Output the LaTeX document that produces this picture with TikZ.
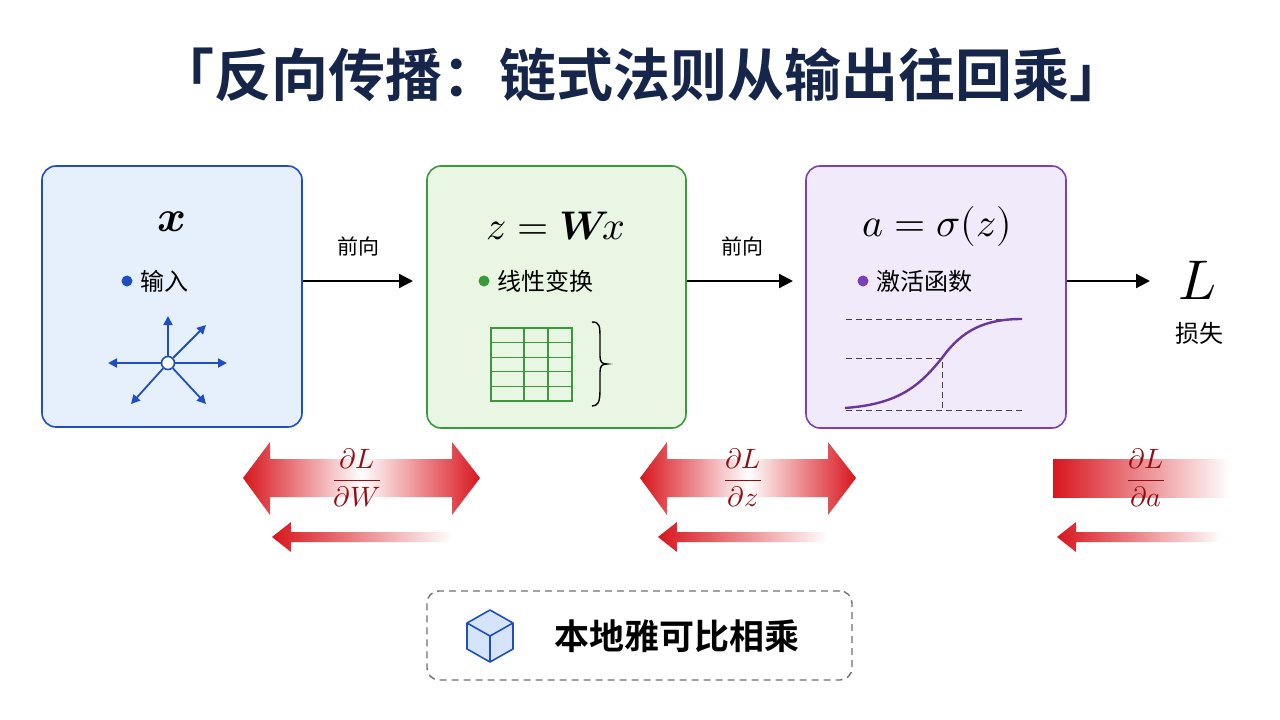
\documentclass[tikz,border=0pt]{standalone}
\usepackage{amsmath}
\usepackage{unicode-math}
\setmathfont{Latin Modern Math}
\newfontfamily\cjk[BoldFont=* Bold]{Noto Sans CJK SC}
\usetikzlibrary{arrows.meta}
\definecolor{bblue}{HTML}{1F4FBF}\definecolor{bbluef}{HTML}{E6EFFC}
\definecolor{bgreen}{HTML}{3A9A3A}\definecolor{bgreenf}{HTML}{E9F6E4}
\definecolor{bpurp}{HTML}{7B3FB8}\definecolor{bpurpf}{HTML}{F0EAFB}
\definecolor{navy}{HTML}{15264A}\definecolor{gred}{HTML}{D8161E}\definecolor{dred}{HTML}{8E1016}
\definecolor{cubef}{HTML}{D6E4FA}
\begin{document}
\begin{tikzpicture}[x=1pt,y=-1pt,
 box/.style={draw, line width=1.6pt, rounded corners=14pt},
 lbl/.style={font=\cjk\fontsize{24}{26}\selectfont},
 fwd/.style={-{Triangle[length=14pt,width=14pt]}, line width=2.2pt},
 dot/.style={circle, inner sep=0pt, minimum size=11pt},
 frac/.style={text=dred, font=\fontsize{28}{30}\selectfont},
 star/.style={bblue, line width=1.8pt, -{Triangle[length=9pt,width=9pt]}},
 guide/.style={line width=1pt, black!75, dash pattern=on 6pt off 4pt}]
\useasboundingbox (0,0) rectangle (1280,720);
\fill[white] (0,0) rectangle (1280,720);
\node[text=navy, font=\cjk\bfseries\fontsize{57}{60}\selectfont] (title) at (642,75) {「反向传播：链式法则从输出往回乘」};
\node[box, draw=bblue, fill=bbluef, minimum width=260pt, minimum height=261pt] (b1) at (172,296.5) {};
\node[box, draw=bgreen, fill=bgreenf, minimum width=259pt, minimum height=262pt] (b2) at (556.5,297) {};
\node[box, draw=bpurp, fill=bpurpf, minimum width=260pt, minimum height=262pt] (b3) at (936,297) {};
\node[font=\fontsize{44}{48}\selectfont] (m1) at (172,222) {$\mathbfit{x}$};
\node[font=\fontsize{40}{44}\selectfont] (m2) at (556,226) {$z=\mathbfit{W}\!x$};
\node[font=\fontsize{40}{44}\selectfont] (m3) at (937,226) {$a=\sigma(z)$};
\node[font=\fontsize{56}{60}\selectfont] (L) at (1198,280) {$L$};
\node[lbl] (loss) at (1199,333) {损失};
\node[dot, fill=bblue] (d1) at (127,281) {};
\node[lbl, anchor=west] (t1) at (d1.east) {\hspace{4pt}输入};
\node[dot, fill=bgreen] (d2) at (484,281) {};
\node[lbl, anchor=west] (t2) at (d2.east) {\hspace{4pt}线性变换};
\node[dot, fill=bpurp] (d3) at (863,281) {};
\node[lbl, anchor=west] (t3) at (d3.east) {\hspace{4pt}激活函数};
\node[font=\cjk\fontsize{21}{23}\selectfont] (f1) at (358,246) {前向};
\node[font=\cjk\fontsize{21}{23}\selectfont] (f2) at (742,246) {前向};
\coordinate (e1) at (413,281);
\coordinate (e2) at (793,281);
\coordinate (e3) at (1150,281);
\draw[fwd] (b1.east|-d1) -- (e1);
\draw[fwd] (b2.east|-d1) -- (e2);
\draw[fwd] (b3.east|-d1) -- (e3);
\node[circle, draw=bblue, line width=1.6pt, fill=white, minimum size=13pt, inner sep=0pt] (hub) at (168,363) {};
\coordinate (su) at (168,316);
\coordinate (sur) at (206,325);
\coordinate (sr) at (227,363);
\coordinate (sl) at (108,363);
\coordinate (sdl) at (131,404);
\coordinate (sdr) at (206,404);
\draw[star] (hub) -- (su);
\draw[star] (hub) -- (sur);
\draw[star] (hub) -- (sr);
\draw[star] (hub) -- (sl);
\draw[star] (hub) -- (sdl);
\draw[star] (hub) -- (sdr);
\draw[bgreen, line width=1.4pt] (491,328) rectangle (572,401);
\foreach \xx in {524,548} \draw[bgreen, line width=1.1pt] (\xx,328) -- (\xx,401);
\foreach \yy in {342.6,357.2,371.8,386.4} \draw[bgreen, line width=1.1pt] (491,\yy) -- (572,\yy);
\draw[line width=1.4pt] (592,322) .. controls (600,322) and (600,326) .. (600,340) -- (600,356) .. controls (600,362) and (602,364) .. (607,364) .. controls (602,364) and (600,366) .. (600,372) -- (600,390) .. controls (600,402) and (598,406) .. (592,406);
\draw[guide] (846,319) -- (1022,319) (846,358) -- (942,358) -- (942,410) (846,410) -- (1022,410);
\draw[bpurp!85!black, line width=2.4pt] (845,408) .. controls (900,404) and (920,385) .. (942,358) .. controls (962,330) and (985,319) .. (1022,319);
\shade[left color=gred, right color=gred, middle color=white] (243,478) -- (270,442) -- (270,459) -- (452,459) -- (452,442) -- (480,478) -- (452,515) -- (452,497) -- (270,497) -- (270,515) -- cycle;
\shade[left color=gred, right color=gred, middle color=white] (640,478) -- (667,442) -- (667,459) -- (828,459) -- (828,442) -- (856,478) -- (828,515) -- (828,497) -- (667,497) -- (667,515) -- cycle;
\shade[left color=gred, right color=white] (1053,459) rectangle (1230,497);
\node[frac] (g1) at (357,478) {$\dfrac{\partial L}{\partial W}$};
\node[frac] (g2) at (743,478) {$\dfrac{\partial L}{\partial z}$};
\node[frac] (g3) at (1146,478) {$\dfrac{\partial L}{\partial a}$};
\shade[left color=gred, right color=white] (272,537) -- (291,522) -- (291,532) -- (452,532) -- (452,542) -- (291,542) -- (291,552) -- cycle;
\shade[left color=gred, right color=white] (658,537) -- (677,522) -- (677,532) -- (828,532) -- (828,542) -- (677,542) -- (677,552) -- cycle;
\shade[left color=gred, right color=white] (1057,537) -- (1076,522) -- (1076,532) -- (1222,532) -- (1222,542) -- (1076,542) -- (1076,552) -- cycle;
\node[draw=black!55, line width=1.4pt, dash pattern=on 7pt off 5pt, rounded corners=12pt, minimum width=425pt, minimum height=89pt] (jb) at (639.5,635.5) {};
\node[font=\cjk\bfseries\fontsize{35}{38}\selectfont] (jt) at (677,636) {本地雅可比相乘};
\begin{scope}[shift={(490,636)}, line width=1.6pt, line join=round]
\fill[cubef] (0,-26) -- (23,-13) -- (23,13) -- (0,26) -- (-23,13) -- (-23,-13) -- cycle;
\draw[bblue] (0,-26) -- (23,-13) -- (23,13) -- (0,26) -- (-23,13) -- (-23,-13) -- cycle;
\draw[bblue] (-23,-13) -- (0,0) -- (23,-13) (0,0) -- (0,26);
\end{scope}
\end{tikzpicture}
\end{document}
